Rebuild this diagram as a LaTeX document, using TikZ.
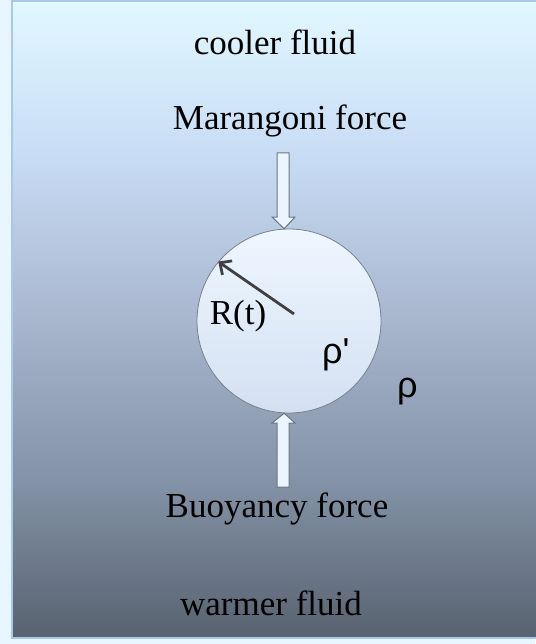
\documentclass[tikz,border=0pt]{standalone}
\usepackage{fontspec}
\setmainfont{Liberation Serif}
\newfontfamily\greekfont{Liberation Sans}
\usetikzlibrary{arrows.meta}
\definecolor{outerbg}{RGB}{232,246,255}
\definecolor{frameedge}{RGB}{168,200,236}
\definecolor{bubtop}{RGB}{238,247,255}
\definecolor{bubbot}{RGB}{212,224,242}
\definecolor{bubedge}{RGB}{120,128,140}
\definecolor{arrfill}{RGB}{234,245,255}
\definecolor{arredge}{RGB}{110,118,128}
\definecolor{radcol}{RGB}{64,64,68}
\pgfdeclareverticalshading{fluidshade}{100bp}{%
  rgb(0bp)=(0.345,0.384,0.439);
  rgb(25bp)=(0.345,0.384,0.439);
  rgb(37bp)=(0.510,0.569,0.647);
  rgb(50bp)=(0.659,0.714,0.808);
  rgb(63bp)=(0.784,0.863,0.960);
  rgb(75bp)=(0.886,0.973,1.000);
  rgb(100bp)=(0.886,0.973,1.000)}
\tikzset{
  lbl/.style={font=\fontsize{35}{40}\selectfont, text=black, inner sep=0pt, anchor=base},
  glbl/.style={font=\greekfont\fontsize{36}{40}\selectfont, text=black, inner sep=0pt, anchor=base west},
  blockarrow/.style={fill=arrfill, draw=arredge, line width=1pt, line join=miter},
}
\begin{document}
\begin{tikzpicture}[x=1pt,y=-1pt]
\useasboundingbox (0,0) rectangle (535,644);
\fill[outerbg] (0,0) rectangle (535,644);
\shade[shading=fluidshade, draw=frameedge, line width=1.5pt]
  (12,1) rectangle (545,638);
% bubble
\node[circle, minimum size=184pt, inner sep=0pt, draw=bubedge, line width=0.8pt,
      top color=bubtop, bottom color=bubbot] (bubble) at (289,321) {};
% texts
\node[lbl] (cool) at (275,55) {cooler fluid};
\node[lbl] (mar) at (290,130) {Marangoni force};
\node[lbl] (buoy) at (277,517) {Buoyancy force};
\node[lbl] (warm) at (271,615) {warmer fluid};
\node[lbl] (rt) at (238,324) {R(t)};
\node[glbl] (rhop) at (322,363) {ρ'};
\node[glbl] (rho) at (397,397) {ρ};
% Marangoni arrow (downward)
\coordinate (mtip) at (bubble.93);
\draw[blockarrow] (277,153) -- (289,153) -- (289,217) -- (295,217) -- (mtip) -- (272,217) -- (277,217) -- cycle;
% Buoyancy arrow (upward)
\coordinate (btip) at (bubble.267);
\draw[blockarrow] (277,487) -- (289,487) -- (289,423) -- (295,423) -- (btip) -- (272,423) -- (277,423) -- cycle;
% radius arrow
\coordinate (rstart) at (294,314);
\draw[radcol, line width=2.8pt, -{Straight Barb[length=9pt,width=17pt]}] (rstart) -- (bubble.140);
\end{tikzpicture}
\end{document}
